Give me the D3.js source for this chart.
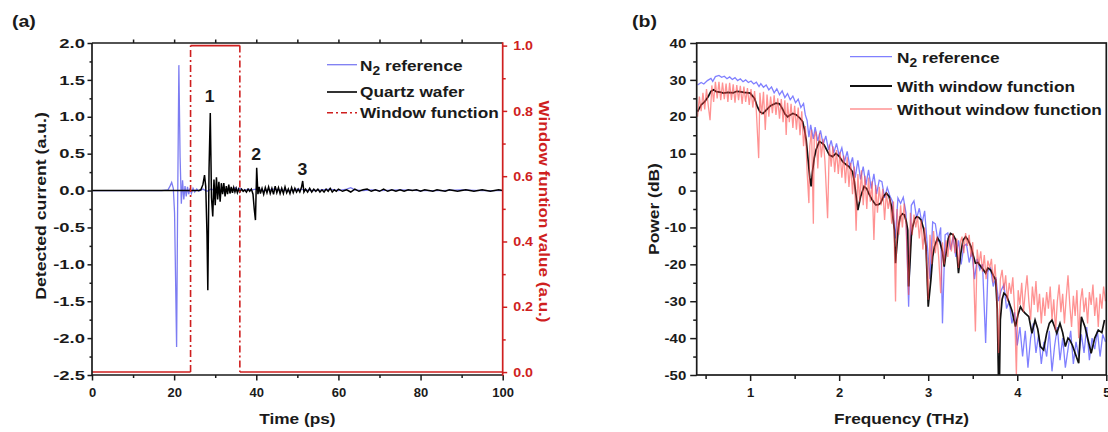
<!DOCTYPE html>
<html>
<head>
<meta charset="utf-8">
<script src="https://cdn.jsdelivr.net/npm/d3@7"></script>
<style>
  body { margin: 0; background: #fff; }
  svg { display: block; font-family: "Liberation Sans", Arial, sans-serif; font-weight: bold; }
</style>
</head>
<body>
<svg id="chart" width="1108" height="432"></svg>
<script>
// ---- panel (a): time domain, [time ps, current a.u.] ----
const n2Pulse = [[0,0],[17,0],[18.5,0.01],[19.0,0.06],[19.4,0.11],[19.8,0.03],[20.1,-0.3],[20.35,-1.2],[20.6,-2.12],[20.85,-0.2],
  [21.15,1.70],[21.45,0.45],[21.75,-0.18],[22.05,0.14],[22.35,-0.12],[22.65,0.06],[22.95,-0.08],[23.25,0.05],[23.55,-0.05],[23.85,0.03],
  [24.2,-0.04],[24.6,0.03],[25.0,-0.02],[25.5,0.02],[26,-0.01],[27,0.02],[28,-0.01],[29,0.02],[30,0.0],[31,0.01],
  [32,-0.01],[33,0.02],[34,0.01],[35,0.04],[35.5,0.01],[36,0.03],[37,0.0],[38,0.02],[39,0.01],[40,0.02],
  [42,0.0],[44,0.02],[46,0.01],[48,0.0],[50,0.02],[52,0.01],[54,0.0],[56,0.01],[58,0.02],[60,0.0],
  [62,0.02],[63,0.04],[64,0.01],[66,0.0],[68,0.01],[70,0.0],[75,0.01],[80,0.0],[85,0.0],[90,0.01],[95,0.0],[100,0.0]];

const quartzPulse = [[0,0],[26,0],[26.5,0.01],[27,0.08],[27.4,0.21],[27.7,0.05],[28.0,-0.6],[28.2,-1.35],[28.5,0.3],[28.8,1.05],
  [29.1,-0.1],[29.4,-0.35],[29.7,0.15],[30.0,-0.2],[30.3,0.18],[30.6,-0.12],[30.9,0.12],[31.2,-0.15],[31.5,0.1],[31.8,-0.05],
  [32.1,0.1],[32.4,-0.08],[32.7,0.06],[33.0,-0.05],[33.3,0.08],[33.6,-0.04],[33.9,0.05],[34.2,-0.03],[34.5,0.04],[34.8,-0.02],
  [35.1,0.03],[35.4,-0.03],[35.7,0.02],[36.0,-0.02],[36.4,0.02],[36.8,-0.01],[37.2,0.01],[37.6,-0.02],[38.0,0.02],[38.4,-0.01],
  [38.8,0.02],[39.2,-0.05],[39.5,-0.25],[39.8,-0.40],[40.1,0.31],[40.4,-0.05],[40.7,0.05],[41.0,-0.04],[41.4,0.03],[41.8,-0.05],
  [42.2,0.04],[42.6,-0.03],[43.0,0.05],[43.4,-0.04],[43.8,0.03],[44.2,-0.05],[44.6,0.06],[45.0,-0.03],[45.4,0.04],[45.8,-0.04],
  [46.2,0.03],[46.6,-0.04],[47,0.05],[47.4,-0.03],[47.8,0.02],[48.2,-0.04],[48.6,0.04],[49,-0.03],[49.4,0.03],[49.8,-0.02],
  [50.2,0.02],[50.6,-0.02],[51.0,0.04],[51.3,0.13],[51.6,-0.02],[52,0.02],[52.5,-0.02],[53,0.03],[53.5,-0.02],[54,0.02],
  [54.5,-0.01],[55,0.02],[55.5,-0.02],[56,0.01],[56.5,-0.02],[57,0.02],[57.5,-0.01],[58,0.03],[58.5,-0.02],[59,0.01],
  [59.5,-0.01],[60,0.02],[61,-0.01],[62,0.01],[63,-0.02],[64,0.02],[65,-0.01],[66,0.01],[67,0.02],[68,-0.01],
  [69,0.01],[70,-0.01],[71,0.02],[72,-0.01],[73,0.01],[74,-0.01],[75,0.01],[76,-0.01],[77,0.01],[78,0],
  [79,0.01],[80,-0.01],[81,0.01],[82,0],[83,-0.01],[84,0.01],[85,0],[86,-0.01],[87,0.01],[88,0],
  [89,-0.01],[90,0],[91,0.01],[92,0],[93,-0.01],[94,0],[95,0.01],[96,0],[97,-0.01],[98,0],[99,0.01],[100,0]];

const windowFn = [[0,0],[24,0],[24,1],[36,1],[36,0],[100,0]];
const peakLabels = [["1",28.9,1.2],["2",40.2,0.41],["3",51.5,0.21]];

const timeTicks = [0, 20, 40, 60, 80, 100];
const timeMinor = [10, 30, 50, 70, 90];
const currentTicks = [-2.5, -2.0, -1.5, -1.0, -0.5, 0.0, 0.5, 1.0, 1.5, 2.0];
const currentMinor = [-2.25, -1.75, -1.25, -0.75, -0.25, 0.25, 0.75, 1.25, 1.75];
const windowTicks = [0, 0.2, 0.4, 0.6, 0.8, 1.0];
const windowMinor = [0.1, 0.3, 0.5, 0.7, 0.9];

// ---- panel (b): spectra, [frequency THz, power dB] ----
const specN2 = [[0.41,28.6],[0.45,29.3],[0.48,28.9],[0.52,29.8],[0.56,30.4],[0.58,29.6],[0.61,30.9],[0.65,31.2],[0.68,30.7],[0.71,31.0],
  [0.74,30.3],[0.77,30.8],[0.80,30.1],[0.83,30.6],[0.86,29.8],[0.89,30.3],[0.92,29.5],[0.95,30.0],[0.98,29.3],[1.01,29.7],
  [1.04,28.9],[1.07,29.4],[1.10,28.2],[1.12,29.0],[1.15,28.0],[1.18,28.6],[1.21,27.3],[1.24,28.1],[1.27,26.5],[1.30,27.6],
  [1.33,26.0],[1.36,27.0],[1.39,25.2],[1.42,26.3],[1.45,24.6],[1.48,25.6],[1.51,23.8],[1.54,24.8],[1.57,22.5],[1.60,23.6],
  [1.62,20.5],[1.64,19.0],[1.66,14.5],[1.68,17.8],[1.71,14.0],[1.73,17.2],[1.76,13.5],[1.79,16.3],[1.82,12.5],[1.85,14.8],
  [1.88,11.0],[1.91,13.6],[1.94,10.2],[1.97,12.8],[2.00,9.5],[2.03,11.6],[2.06,7.8],[2.09,10.6],[2.12,6.5],[2.15,9.0],
  [2.18,3.5],[2.21,8.2],[2.24,3.0],[2.27,6.5],[2.30,1.5],[2.33,5.6],[2.36,0.5],[2.39,4.5],[2.42,-1.0],[2.45,2.8],
  [2.48,2.4],[2.51,-2.0],[2.54,0.8],[2.57,-1.5],[2.60,-3.0],[2.63,-13.0],[2.66,-2.0],[2.69,-3.5],[2.72,-1.8],[2.75,-6.0],
  [2.78,-31.5],[2.81,-4.0],[2.84,-2.8],[2.87,-7.5],[2.90,-4.8],[2.93,-9.0],[2.96,-5.5],[2.99,-15.0],[3.02,-24.0],[3.05,-8.5],
  [3.08,-9.0],[3.11,-14.0],[3.14,-10.0],[3.16,-36.0],[3.19,-12.0],[3.22,-11.5],[3.25,-16.0],[3.28,-12.5],[3.31,-18.0],[3.34,-13.5],
  [3.37,-20.0],[3.40,-15.0],[3.43,-14.5],[3.46,-19.5],[3.49,-16.5],[3.52,-24.0],[3.55,-18.5],[3.58,-21.5],[3.61,-20.0],[3.645,-41.3],
  [3.67,-22.0],[3.70,-21.0],[3.73,-26.0],[3.76,-23.5],[3.79,-30.0],[3.82,-27.0],[3.85,-25.5],[3.88,-32.0],[3.91,-30.0],[3.94,-36.0],
  [3.97,-33.0],[4.00,-42.0],[4.03,-37.0],[4.06,-45.0],[4.09,-38.0],[4.12,-48.0],[4.15,-40.0],[4.18,-36.0],[4.21,-44.0],[4.24,-39.0],
  [4.27,-47.0],[4.30,-41.0],[4.33,-45.0],[4.36,-38.0],[4.39,-49.0],[4.42,-42.0],[4.45,-37.0],[4.48,-46.0],[4.51,-40.0],[4.54,-48.0],
  [4.57,-43.0],[4.60,-38.0],[4.63,-47.0],[4.66,-41.0],[4.69,-45.0],[4.72,-39.0],[4.75,-44.0],[4.78,-37.0],[4.81,-46.0],[4.84,-40.0],
  [4.87,-43.0],[4.90,-38.0],[4.93,-45.0],[4.96,-39.0],[4.99,-41.0]];

const specWindow = [[0.41,21.4],[0.45,23.2],[0.49,24.1],[0.53,25.5],[0.56,26.9],[0.59,27.3],[0.62,26.8],[0.66,26.7],[0.70,26.4],[0.75,26.6],
  [0.81,26.5],[0.85,26.9],[0.88,26.8],[0.93,26.6],[1.00,26.4],[1.05,25.0],[1.08,22.8],[1.11,21.3],[1.145,20.9],[1.18,21.8],
  [1.23,23.0],[1.29,23.7],[1.33,23.5],[1.36,22.3],[1.39,20.8],[1.42,20.0],[1.45,20.5],[1.48,20.9],[1.52,20.5],[1.56,19.6],
  [1.59,18.7],[1.61,16.5],[1.63,13.7],[1.65,8.5],[1.67,3.5],[1.685,1.1],[1.70,5.1],[1.72,8.8],[1.74,11.0],[1.777,13.3],
  [1.80,13.0],[1.83,12.4],[1.86,11.0],[1.89,9.6],[1.926,9.2],[1.963,10.1],[2.00,9.3],[2.04,7.8],[2.08,7.0],[2.11,6.5],
  [2.15,5.1],[2.17,2.5],[2.186,-0.7],[2.21,-5.3],[2.24,-1.7],[2.28,1.1],[2.31,0.5],[2.33,-0.7],[2.37,-2.5],[2.41,-3.9],
  [2.44,-3.8],[2.465,-3.4],[2.50,-1.5],[2.53,-0.7],[2.56,-1.6],[2.59,-4.5],[2.62,-10.7],[2.633,-19.7],[2.647,-15.2],[2.665,-10.0],
  [2.685,-7.1],[2.71,-6.3],[2.733,-6.6],[2.755,-8.5],[2.77,-10.7],[2.78,-26.0],[2.797,-18.8],[2.81,-12.5],[2.826,-9.8],[2.85,-7.6],
  [2.87,-7.1],[2.895,-7.3],[2.92,-8.0],[2.95,-10.5],[2.975,-15.2],[3.0,-31.5],[3.03,-24.2],[3.05,-18.0],[3.07,-15.2],[3.105,-12.9],
  [3.13,-13.8],[3.16,-16.6],[3.18,-20.6],[3.2,-17.0],[3.225,-13.0],[3.25,-11.6],[3.28,-12.0],[3.31,-13.4],[3.34,-22.4],[3.366,-17.0],
  [3.39,-13.5],[3.42,-12.5],[3.45,-13.5],[3.48,-15.2],[3.505,-17.5],[3.53,-19.7],[3.56,-19.5],[3.59,-20.6],[3.62,-21.5],[3.645,-22.4],
  [3.67,-21.0],[3.70,-21.5],[3.73,-23.0],[3.757,-24.2],[3.775,-32.0],[3.79,-52.0],[3.80,-52.0],[3.81,-35.0],[3.83,-29.5],[3.85,-27.8],
  [3.88,-28.5],[3.905,-30.1],[3.94,-32.5],[3.98,-36.9],[4.01,-33.5],[4.036,-31.5],[4.06,-32.5],[4.09,-33.3],[4.13,-34.2],[4.165,-38.7],
  [4.2,-35.1],[4.23,-37.5],[4.26,-42.3],[4.296,-43.2],[4.33,-38.7],[4.36,-36.0],[4.39,-35.1],[4.42,-37.0],[4.444,-38.7],[4.48,-36.0],
  [4.51,-38.5],[4.54,-42.3],[4.57,-40.0],[4.59,-40.5],[4.62,-42.0],[4.65,-44.1],[4.69,-46.8],[4.72,-34.2],[4.76,-36.9],[4.80,-41.0],
  [4.83,-44.1],[4.87,-40.0],[4.91,-37.8],[4.95,-38.5],[4.98,-35.1]];

const specNoWindow = [[0.41,20.0],[0.43,25.5],[0.45,21.5],[0.47,26.5],[0.49,22.0],[0.51,27.5],[0.53,23.0],[0.55,19.1],[0.57,28.5],[0.59,24.0],
  [0.61,29.5],[0.63,25.0],[0.65,29.5],[0.67,24.5],[0.69,29.3],[0.71,24.8],[0.73,29.0],[0.75,24.0],[0.77,29.2],[0.79,24.6],
  [0.81,28.8],[0.83,23.8],[0.85,28.6],[0.87,24.5],[0.89,28.4],[0.91,23.5],[0.93,28.2],[0.95,24.0],[0.97,27.8],[0.99,23.2],
  [1.01,27.5],[1.03,22.5],[1.05,27.0],[1.07,21.5],[1.096,8.8],[1.11,26.5],[1.13,20.5],[1.15,26.8],[1.17,16.4],[1.19,26.0],
  [1.21,20.0],[1.23,25.5],[1.25,21.0],[1.27,25.8],[1.29,20.5],[1.31,25.0],[1.33,19.5],[1.35,24.8],[1.37,18.5],[1.39,24.5],
  [1.405,15.1],[1.42,23.8],[1.44,18.5],[1.46,23.5],[1.48,17.0],[1.50,23.0],[1.52,16.5],[1.54,22.5],[1.56,15.0],[1.58,21.5],
  [1.60,12.0],[1.62,17.5],[1.64,5.0],[1.66,-3.4],[1.67,12.0],[1.69,16.5],[1.71,-9.0],[1.72,14.5],[1.74,16.0],[1.76,6.0],
  [1.78,15.5],[1.80,9.0],[1.82,14.0],[1.84,8.0],[1.87,-7.5],[1.89,12.5],[1.91,6.5],[1.93,12.0],[1.95,5.0],[1.97,11.0],
  [1.99,4.5],[2.01,10.5],[2.03,3.5],[2.05,9.5],[2.07,2.0],[2.09,9.0],[2.11,1.0],[2.13,7.5],[2.15,-1.0],[2.17,6.5],
  [2.19,-10.9],[2.21,4.5],[2.23,-3.0],[2.25,5.5],[2.27,-4.0],[2.29,4.0],[2.31,-5.0],[2.33,3.5],[2.35,-3.0],[2.37,2.5],
  [2.39,-13.4],[2.41,1.5],[2.43,-6.0],[2.45,1.0],[2.47,-4.0],[2.49,0.5],[2.51,-8.0],[2.53,-0.5],[2.55,-5.0],[2.57,-2.0],
  [2.59,-9.0],[2.61,-3.0],[2.633,-30.1],[2.65,-5.0],[2.67,-12.0],[2.69,-4.0],[2.71,-10.0],[2.73,-3.5],[2.75,-9.0],[2.78,-28.3],
  [2.80,-6.0],[2.82,-12.0],[2.84,-6.5],[2.86,-10.0],[2.88,-7.0],[2.90,-13.0],[2.92,-8.0],[2.94,-16.0],[2.96,-10.0],[2.98,-18.0],
  [3.0,-29.6],[3.02,-12.0],[3.04,-20.0],[3.06,-11.0],[3.08,-17.0],[3.10,-12.5],[3.12,-19.0],[3.14,-27.8],[3.16,-14.0],[3.18,-20.0],
  [3.20,-13.5],[3.22,-18.0],[3.24,-12.0],[3.26,-16.5],[3.28,-11.5],[3.30,-17.0],[3.32,-13.0],[3.34,-21.0],[3.36,-14.0],[3.38,-12.5],
  [3.40,-17.0],[3.42,-11.5],[3.44,-15.0],[3.46,-12.0],[3.48,-18.0],[3.50,-14.0],[3.53,-38.2],[3.55,-16.0],[3.57,-20.0],[3.59,-16.5],
  [3.61,-22.0],[3.63,-17.5],[3.65,-24.0],[3.67,-19.0],[3.69,-21.0],[3.71,-18.5],[3.73,-25.0],[3.75,-20.0],[3.77,-28.0],[3.79,-44.0],
  [3.81,-24.0],[3.83,-21.5],[3.85,-27.0],[3.87,-23.0],[3.89,-30.0],[3.91,-25.0],[3.93,-28.0],[3.95,-23.5],[3.97,-32.0],[3.99,-50.0],
  [4.01,-27.0],[4.03,-31.0],[4.05,-25.0],[4.07,-33.0],[4.09,-27.5],[4.11,-23.0],[4.13,-30.0],[4.15,-35.0],[4.17,-26.0],[4.19,-31.0],
  [4.21,-24.5],[4.23,-33.0],[4.25,-28.0],[4.27,-36.0],[4.29,-29.0],[4.31,-34.0],[4.33,-27.5],[4.35,-32.0],[4.37,-26.0],[4.39,-35.0],
  [4.41,-29.5],[4.43,-38.0],[4.45,-30.0],[4.47,-25.5],[4.49,-33.0],[4.51,-28.0],[4.53,-36.0],[4.55,-29.0],[4.57,-23.0],[4.59,-31.0],
  [4.61,-37.0],[4.63,-28.5],[4.65,-34.0],[4.67,-27.0],[4.69,-40.0],[4.71,-30.0],[4.73,-26.5],[4.75,-33.0],[4.77,-29.0],[4.79,-36.0],
  [4.81,-27.5],[4.83,-31.0],[4.85,-25.5],[4.87,-34.0],[4.89,-29.0],[4.91,-37.0],[4.93,-28.0],[4.95,-32.0],[4.97,-26.0],[4.99,-30.0]];

const freqTicks = [1, 2, 3, 4, 5];
const freqMinor = [0.5, 1.5, 2.5, 3.5, 4.5];
const powerTicks = [-50, -40, -30, -20, -10, 0, 10, 20, 30, 40];
const powerMinor = [-45, -35, -25, -15, -5, 5, 15, 25, 35];

// ---- drawing ----
const ink = "#1a1a1a", red = "#cf1f1f", blueA = "#7c7cf2", blueB = "#6060ff", redB = "#ff4a4a";
const svg = d3.select("#chart");

const A = {left: 92, right: 502.7, top: 43, bottom: 375};
const B = {left: 696.7, right: 1106.3, top: 43, bottom: 375};

const xA = d3.scaleLinear().domain([0, 100]).range([A.left, A.right]);
const yA = d3.scaleLinear().domain([-2.5, 2.0]).range([A.bottom, A.top]);
const yW = d3.scaleLinear().domain([-0.009, 1.008]).range([A.bottom, A.top]);
const xB = d3.scaleLinear().domain([0.4, 5]).range([B.left, B.right]);
const yB = d3.scaleLinear().domain([-50, 40]).range([B.bottom, B.top]);

const defs = svg.append("defs");
defs.append("clipPath").attr("id", "clipA").append("rect")
  .attr("x", A.left).attr("y", A.top).attr("width", A.right - A.left).attr("height", A.bottom - A.top);
defs.append("clipPath").attr("id", "clipB").append("rect")
  .attr("x", B.left).attr("y", B.top).attr("width", B.right - B.left).attr("height", B.bottom - B.top);

// text helper, Origin fonts look a bit wider than Arial so stretch in x
function label(x, y, s, o) {
  o = o || {};
  return svg.append("text")
    .attr("transform", `translate(${x},${y}) rotate(${o.rot || 0}) scale(${o.sx || 1.15},1)`)
    .attr("text-anchor", o.anchor || "start")
    .style("font-size", (o.size || 15) + "px")
    .attr("fill", o.color || ink)
    .text(s);
}

function addAxis(gen, tx, ty, color, sx, shift) {
  const g = svg.append("g").attr("transform", `translate(${tx},${ty})`).call(gen);
  g.select(".domain").remove();
  g.selectAll(".tick line").attr("stroke", color).attr("stroke-width", 1.5);
  g.selectAll(".tick text").attr("fill", color).style("font-size", "13px").style("font-weight", "bold");
  if (sx) {
    g.selectAll(".tick text").attr("transform", `scale(${sx},1)`);
    if (shift) g.selectAll(".tick text").attr("x", shift / sx);
  }
  return g;
}

// panel (a) series
const lineA = d3.line().x(d => xA(d[0])).y(d => yA(d[1]));
const gA = svg.append("g").attr("clip-path", "url(#clipA)");
gA.append("path").datum(n2Pulse).attr("d", lineA)
  .attr("fill", "none").attr("stroke", blueA).attr("stroke-width", 1.3);
gA.append("path").datum(quartzPulse).attr("d", lineA)
  .attr("fill", "none").attr("stroke", "#000").attr("stroke-width", 1.5);
gA.selectAll("line.win").data(d3.pairs(windowFn)).join("line")
  .attr("class", "win")
  .attr("x1", d => xA(d[0][0])).attr("y1", d => yW(d[0][1]))
  .attr("x2", d => xA(d[1][0])).attr("y2", d => yW(d[1][1]))
  .attr("stroke", red).attr("stroke-width", 1.6)
  .attr("stroke-dasharray", d => d[0][0] === d[1][0] ? "7,3,2,3" : null);

// panel (a) axes
addAxis(d3.axisLeft(yA).tickValues(currentMinor).tickSize(2.5).tickFormat(""), A.left, 0, ink);
addAxis(d3.axisLeft(yA).tickValues(currentTicks).tickSize(4.5).tickFormat(d => d.toFixed(1)), A.left, 0, ink, 1.42, -7);
addAxis(d3.axisBottom(xA).tickValues(timeMinor).tickSize(3).tickFormat(""), 0, A.bottom, ink);
addAxis(d3.axisBottom(xA).tickValues(timeTicks).tickSize(5.5).tickFormat(d3.format("d")), 0, A.bottom, ink, 1.0)
  .selectAll(".tick text").attr("y", 13);
addAxis(d3.axisTop(xA).tickValues(timeMinor.concat([20, 40, 60, 80])).tickSize(3.5).tickFormat(""), 0, A.top, ink);
addAxis(d3.axisRight(yW).tickValues(windowMinor).tickSize(3).tickFormat(""), A.right, 0, red);
addAxis(d3.axisRight(yW).tickValues(windowTicks).tickSize(4.5).tickFormat(d => d.toFixed(1)), A.right, 0, red, 1.1, 10.5);

svg.append("line").attr("x1", A.left).attr("x2", A.left).attr("y1", A.top).attr("y2", A.bottom + 0.8)
  .attr("stroke", ink).attr("stroke-width", 1.7);
svg.append("line").attr("x1", A.left).attr("x2", A.right).attr("y1", A.bottom).attr("y2", A.bottom)
  .attr("stroke", ink).attr("stroke-width", 1.7);
svg.append("line").attr("x1", A.left).attr("x2", A.right).attr("y1", A.top).attr("y2", A.top)
  .attr("stroke", ink).attr("stroke-width", 1.7);
svg.append("line").attr("x1", A.right).attr("x2", A.right).attr("y1", A.top - 0.8).attr("y2", A.bottom + 0.8)
  .attr("stroke", red).attr("stroke-width", 1.7);

// peak numbers
peakLabels.forEach(p => label(xA(p[1]) - 1, yA(p[2]), p[0], {anchor: "middle", size: 16, sx: 1.1}));

// panel (a) legend
const legA = [
  {y: 64.7, base: 70.5, color: blueA, w: 1.3, dash: null},
  {y: 92, base: 97, color: "#000", w: 1.6, dash: null},
  {y: 112.7, base: 118, color: red, w: 1.5, dash: "6,3,2,3"}
];
legA.forEach(d => svg.append("line").attr("x1", 327).attr("x2", 357).attr("y1", d.y).attr("y2", d.y)
  .attr("stroke", d.color).attr("stroke-width", d.w).attr("stroke-dasharray", d.dash));
const n2a = label(360, legA[0].base, "N", {});
n2a.append("tspan").attr("dy", 4).style("font-size", "12px").text("2");
n2a.append("tspan").attr("dy", -4).text(" reference");
label(360, legA[1].base, "Quartz wafer", {});
label(360, legA[2].base, "Window function", {});

// panel (a) titles
label(12, 27, "(a)", {size: 17});
label(xA(50), 424, "Time (ps)", {anchor: "middle"});
label(45.5, 206, "Detected current (a.u.)", {anchor: "middle", rot: -90, sx: 1.18});
label(538.5, 211.5, "Window funtion value (a.u.)", {anchor: "middle", rot: 90, color: red, sx: 1.14});

// panel (b) series
const lineB = d3.line().x(d => xB(d[0])).y(d => yB(d[1]));
const gB = svg.append("g").attr("clip-path", "url(#clipB)");
gB.append("path").datum(specN2).attr("d", lineB)
  .attr("fill", "none").attr("stroke", blueB).attr("stroke-opacity", 0.8).attr("stroke-width", 1.3);
gB.append("path").datum(specWindow).attr("d", lineB)
  .attr("fill", "none").attr("stroke", "#111").attr("stroke-width", 1.7);
gB.append("path").datum(specNoWindow).attr("d", lineB)
  .attr("fill", "none").attr("stroke", redB).attr("stroke-opacity", 0.6).attr("stroke-width", 1.3);

// panel (b) axes
addAxis(d3.axisLeft(yB).tickValues(powerMinor).tickSize(3.5).tickFormat(""), B.left, 0, ink);
addAxis(d3.axisLeft(yB).tickValues(powerTicks).tickSize(6.5).tickFormat(d => String(d)), B.left, 0, ink, 1.15, -10.5);
addAxis(d3.axisBottom(xB).tickValues(freqMinor).tickSize(4).tickFormat(""), 0, B.bottom, ink);
addAxis(d3.axisBottom(xB).tickValues(freqTicks).tickSize(6).tickFormat(d3.format("d")), 0, B.bottom, ink, 1.0)
  .selectAll(".tick text").attr("y", 13);
svg.append("rect").attr("x", B.left).attr("y", B.top).attr("width", B.right - B.left).attr("height", B.bottom - B.top)
  .attr("fill", "none").attr("stroke", ink).attr("stroke-width", 1.7);

// panel (b) legend
const legB = [
  {y: 56.7, base: 63, color: blueB, op: 0.8, w: 1.3},
  {y: 86, base: 91.5, color: "#111", op: 1, w: 1.8},
  {y: 109, base: 114.5, color: redB, op: 0.6, w: 1.5}
];
legB.forEach(d => svg.append("line").attr("x1", 850).attr("x2", 892).attr("y1", d.y).attr("y2", d.y)
  .attr("stroke", d.color).attr("stroke-opacity", d.op).attr("stroke-width", d.w));
const n2b = label(897, legB[0].base, "N", {});
n2b.append("tspan").attr("dy", 4).style("font-size", "12px").text("2");
n2b.append("tspan").attr("dy", -4).text(" reference");
label(897, legB[1].base, "With window function", {});
label(897, legB[2].base, "Without window function", {});

// panel (b) titles
label(632, 27, "(b)", {size: 17});
label((B.left + B.right) / 2, 424, "Frequency (THz)", {anchor: "middle"});
label(658.5, 209, "Power (dB)", {anchor: "middle", rot: -90, sx: 1.16});
</script>
</body>
</html>
